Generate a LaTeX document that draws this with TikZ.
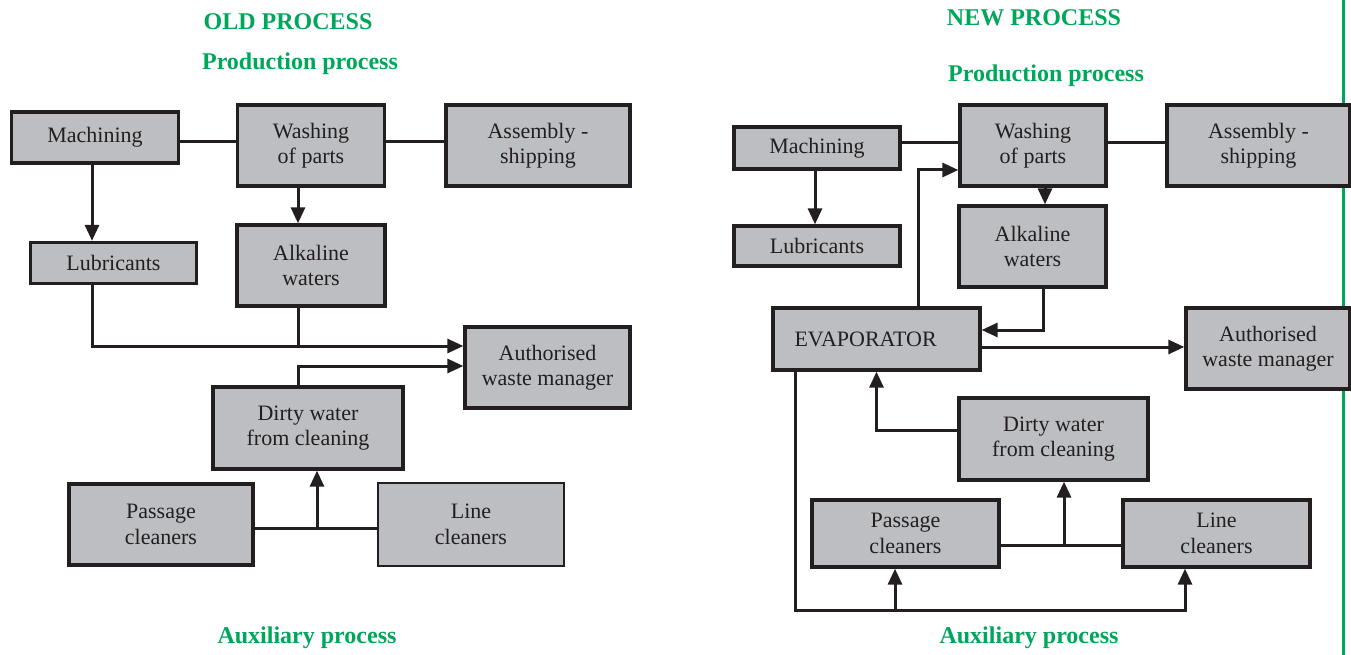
\documentclass[tikz,border=0pt]{standalone}
\usepackage{fontspec}
\setmainfont{Liberation Serif}
\usetikzlibrary{arrows.meta}
\definecolor{boxfill}{RGB}{189,190,193}
\definecolor{boxline}{RGB}{35,31,32}
\definecolor{titlegreen}{RGB}{0,166,90}
\tikzset{
  box/.style={draw=boxline, fill=boxfill, line width=3.3pt, inner sep=0pt, align=center,
    font=\fontsize{22}{25.5}\selectfont, text=boxline},
  thinbox/.style={box, line width=1.2pt},
  conn/.style={draw=boxline, line width=3pt},
  arr/.style={conn, -{Triangle[length=16pt,width=14pt]}},
  ttl/.style={font=\fontsize{24}{28}\selectfont\bfseries, text=titlegreen, inner sep=0pt}
}
\begin{document}
\begin{tikzpicture}[x=1pt,y=-1pt]
\useasboundingbox (0,0) rectangle (1351,655);
% green separator
\coordinate (gTop) at (1343,0);
\coordinate (gBot) at (1343,655);
\draw[titlegreen, line width=3pt] (gTop) -- (gBot);

% titles
\node[ttl] (oTitle) at (288,22) {OLD PROCESS};
\node[ttl] (oProd) at (300,64) {Production process};
\node[ttl] (oAux) at (307,638) {Auxiliary process};
\node[ttl] (nTitle) at (1034,18) {NEW PROCESS};
\node[ttl] (nProd) at (1046,76) {Production process};
\node[ttl] (nAux) at (1029,638) {Auxiliary process};

% ---------- OLD PROCESS ----------
\node[box, minimum width=167pt, minimum height=51pt] (oMach) at (95,137.5) {Machining};
\node[box, minimum width=147pt, minimum height=81pt] (oWash) at (311,145.5) {Washing\\of parts};
\node[box, minimum width=184pt, minimum height=81pt] (oAsm) at (538,145.5) {Assembly -\\shipping};
\node[box, minimum width=166pt, minimum height=41pt] (oLub) at (113.5,263) {Lubricants};
\node[box, minimum width=148pt, minimum height=81pt] (oAlk) at (311,265.5) {Alkaline\\waters};
\node[box, minimum width=165pt, minimum height=81pt] (oAuth) at (547.5,367.5) {Authorised\\waste manager};
\node[box, minimum width=190pt, minimum height=82pt] (oDirty) at (308,428) {Dirty water\\from cleaning};
\node[box, minimum width=184pt, minimum height=81pt] (oPass) at (161,524.5) {Passage\\cleaners};
\node[thinbox, minimum width=186pt, minimum height=83pt] (oLine) at (471,524.5) {Line\\cleaners};

\draw[conn] ([yshift=-4.5pt]oMach.east) -- ([yshift=-4.5pt]oMach.east -| oWash.west);
\draw[conn] ([yshift=3.5pt]oWash.east) -- ([yshift=3.5pt]oWash.east -| oAsm.west);
\draw[arr] ([xshift=-3pt]oMach.south) -- ([xshift=-3pt]oMach.south |- oLub.north);
\draw[arr] ([xshift=-13pt]oWash.south) -- ([xshift=-13pt]oWash.south |- oAlk.north);
\coordinate (oA1) at ([yshift=21.5pt]oAuth.west);
\draw[arr] ([xshift=-21.5pt]oLub.south) |- (oA1);
\draw[conn] ([xshift=-13pt]oAlk.south) -- ([xshift=-13pt]oAlk.south |- oA1);
\draw[arr] ([xshift=-10pt]oDirty.north) |- ([yshift=1.5pt]oAuth.west);
\coordinate (oLink) at ([yshift=-3.5pt]oPass.east);
\draw[conn] (oLink) -- (oLink -| oLine.west);
\coordinate (oDs) at ([xshift=9pt]oDirty.south);
\draw[arr] (oDs |- oLink) -- (oDs);

% ---------- NEW PROCESS ----------
\node[box, minimum width=166pt, minimum height=42pt] (nMach) at (817,148) {Machining};
\node[box, minimum width=146pt, minimum height=81pt] (nWash) at (1033,145.5) {Washing\\of parts};
\node[box, minimum width=183pt, minimum height=81pt] (nAsm) at (1258.5,145.5) {Assembly -\\shipping};
\node[box, minimum width=166pt, minimum height=40pt] (nLub) at (817,246) {Lubricants};
\node[box, minimum width=147pt, minimum height=81pt] (nAlk) at (1032.5,246.5) {Alkaline\\waters};
\node[box, minimum width=207pt, minimum height=62pt, text width=164pt, align=left] (nEvap) at (876.5,339) {EVAPORATOR};
\node[box, minimum width=164pt, minimum height=81pt] (nAuth) at (1268,348.5) {Authorised\\waste manager};
\node[box, minimum width=189pt, minimum height=82pt] (nDirty) at (1053.5,439) {Dirty water\\from cleaning};
\node[box, minimum width=187pt, minimum height=67pt] (nPass) at (905.5,533.5) {Passage\\cleaners};
\node[box, minimum width=187pt, minimum height=67pt] (nLine) at (1216.5,533.5) {Line\\cleaners};

\draw[conn] ([yshift=5pt]nMach.east) -- ([yshift=5pt]nMach.east -| nWash.west);
\draw[conn] ([yshift=2.5pt]nWash.east) -- ([yshift=2.5pt]nWash.east -| nAsm.west);
\draw[arr] ([xshift=-2pt]nMach.south) -- ([xshift=-2pt]nMach.south |- nLub.north);
\draw[arr] ([xshift=12pt]nWash.south) -- ([xshift=12pt]nWash.south |- nAlk.north);
\draw[arr] ([xshift=41.5pt]nEvap.north) |- ([yshift=-24.5pt]nWash.west);
\draw[arr] ([xshift=10.5pt]nAlk.south) |- ([yshift=9pt]nEvap.east);
\draw[arr] ([yshift=-8pt]nEvap.east) -- ([yshift=-8pt]nEvap.east -| nAuth.west);
\draw[arr] ([yshift=9pt]nDirty.west) -| (nEvap.south);
\coordinate (nLink) at ([yshift=-11.5pt]nPass.east);
\draw[conn] (nLink) -- (nLink -| nLine.west);
\coordinate (nDs) at ([xshift=10.5pt]nDirty.south);
\draw[arr] (nDs |- nLink) -- (nDs);
\coordinate (nBot) at (895,610);
\draw[arr] ([xshift=-81.5pt]nEvap.south) |- (nBot) -| ([xshift=-31.5pt]nLine.south);
\draw[arr] (nBot) -- (nBot |- nPass.south);
\end{tikzpicture}
\end{document}
